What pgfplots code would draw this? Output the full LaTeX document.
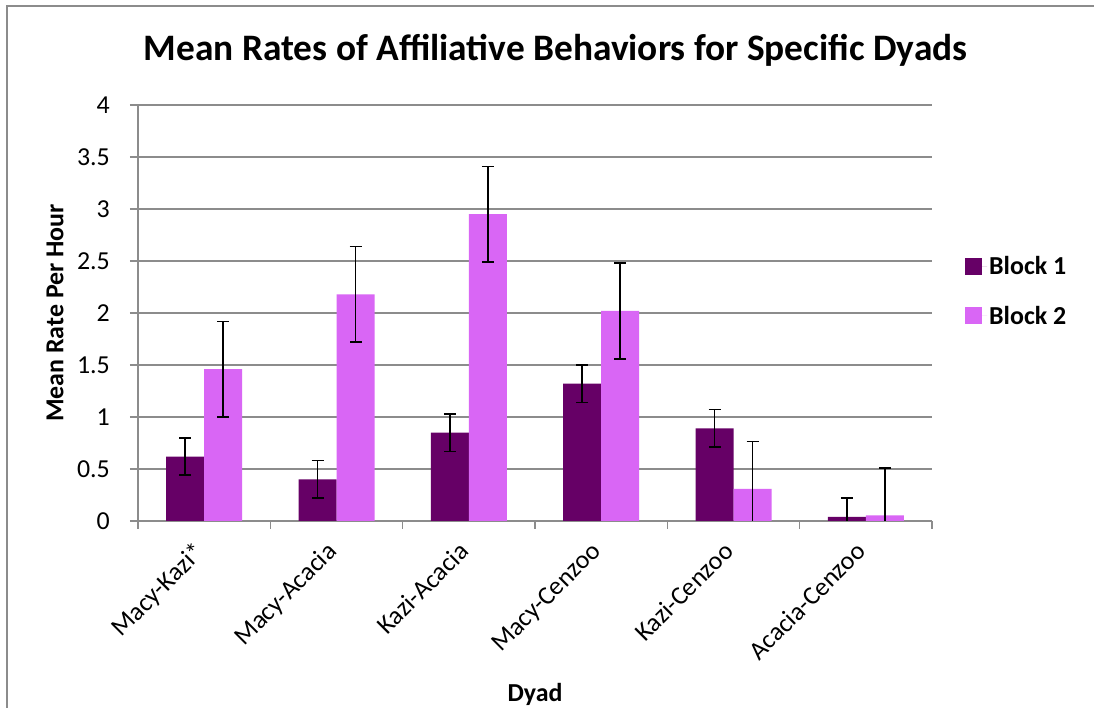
\documentclass[border=0pt]{standalone}
\usepackage{pgfplots}
\usepackage{pgfplotstable}
\pgfplotsset{compat=1.18}
\usepackage{fontspec}
\setmainfont{Carlito}
\definecolor{blockone}{HTML}{660066}
\definecolor{blocktwo}{HTML}{D966F5}
\definecolor{gridgray}{HTML}{8C8C8C}
\pgfplotstableread{
x y1 e1 y2 e2
0 0.62 0.18 1.46 0.46
1 0.40 0.18 2.18 0.46
2 0.85 0.18 2.95 0.46
3 1.32 0.18 2.02 0.46
4 0.89 0.18 0.31 0.455
5 0.04 0.18 0.055 0.455
}\datatable
\begin{document}
\begin{tikzpicture}[x=1bp,y=1bp]
\fill[white] (0,0) rectangle (1094,708);
\begin{axis}[
  at={(138bp,187bp)}, anchor=south west,
  scale only axis, width=794bp, height=416bp,
  ybar=0pt, bar width=38bp,
  xmin=-0.5, xmax=5.5, ymin=0, ymax=4,
  xtick={0,...,5},
  xticklabels={Macy-Kazi*, Macy-Acacia, Kazi-Acacia, Macy-Cenzoo, Kazi-Cenzoo, Acacia-Cenzoo},
  minor xtick={-0.5,0.5,1.5,2.5,3.5,4.5,5.5},
  ytick={0,0.5,...,4},
  axis x line*=bottom, axis y line*=left,
  axis line style={gridgray, line width=1.5bp, -},
  tick align=outside,
  major tick length=8bp, minor tick length=8bp,
  every major x tick/.append style={opacity=0},
  every tick/.style={gridgray, line width=1.5bp},
  ymajorgrids,
  grid style={gridgray, line width=1.5bp},
  /pgf/number format/assume math mode=true,
  tick label style={font=\fontsize{26}{31}\selectfont, black},
  yticklabel style={anchor=east, inner sep=0pt, xshift=-20bp},
  xticklabel style={rotate=45, anchor=north east, inner sep=0pt, xshift=-16bp, yshift=0bp},
  title={Mean Rates of Affiliative Behaviors for Specific Dyads},
  title style={at={(axis description cs:0.526,1.118)}, anchor=center, font=\fontsize{37.5}{45}\selectfont\bfseries},
  ylabel={Mean Rate Per Hour},
  ylabel style={at={(axis description cs:-0.1045,0.5)}, anchor=center, font=\fontsize{26}{31}\selectfont\bfseries},
  xlabel={Dyad},
  xlabel style={at={(axis description cs:0.5,-0.418)}, anchor=center, font=\fontsize{26}{31}\selectfont\bfseries},
  legend style={at={(axis description cs:1.0378,0.553)}, anchor=west, draw=none, fill=none, font=\fontsize{26}{31}\selectfont\bfseries, row sep=26bp},
  legend cell align=left,
  legend image code/.code={\fill[#1] (0bp,-8.5bp) rectangle (17bp,8.5bp); \path (0bp,0bp) -- (22bp,0bp);},
]
\addplot[fill=blockone, draw=none,
  error bars/.cd, y dir=both, y explicit,
  error bar style={black, line width=1.5bp},
  error mark options={black, line width=1.5bp, mark size=6bp, rotate=90}]
  table[x=x, y=y1, y error=e1] {\datatable};
\addlegendentry{Block 1}
\addplot[fill=blocktwo, draw=none,
  error bars/.cd, y dir=both, y explicit,
  error bar style={black, line width=1.5bp},
  error mark options={black, line width=1.5bp, mark size=6bp, rotate=90}]
  table[x=x, y=y2, y error=e2] {\datatable};
\addlegendentry{Block 2}
\end{axis}
\draw[gridgray, line width=2bp] (7,-20) -- (7,702) -- (1120,702);
\pgfresetboundingbox
\useasboundingbox (0,0) rectangle (1094,708);
\end{tikzpicture}
\end{document}
